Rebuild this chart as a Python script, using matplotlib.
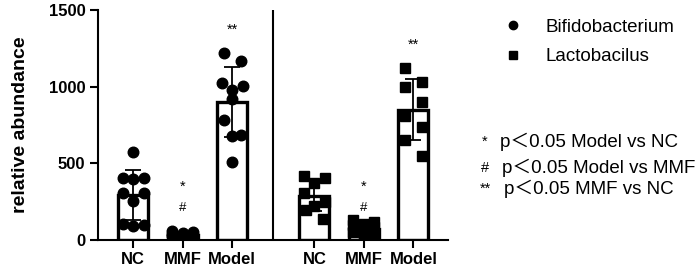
import numpy as np
import matplotlib
matplotlib.use("Agg")
import matplotlib.pyplot as plt
from matplotlib.lines import Line2D

# ---- data ----
groups = ["NC", "MMF", "Model"]
bifido_nc = [576, 405, 405, 396, 304, 304, 254, 105, 98, 92]
bifido_mmf = [60, 50, 45, 40, 35, 30, 25, 20, 15, 10]
bifido_model = [1222, 1168, 1026, 1005, 978, 918, 783, 685, 678, 511]
lacto_nc = [415, 405, 370, 305, 250, 225, 195, 140]
lacto_mmf = [130, 115, 105, 95, 85, 70, 55, 40, 30, 20]
lacto_model = [1124, 1030, 1000, 900, 810, 735, 650, 550]

bifido_marks = ["", "*\n#", "**"]
lacto_marks = ["", "*\n#", "**"]
yticks = [0, 500, 1000, 1500]

notes = [("*", "p＜0.05 Model vs NC"),
         ("#", "p＜0.05 Model vs MMF"),
         ("**", "p＜0.05 MMF vs NC")]
note_rows = [142, 168, 189]  # pixel rows of the footnote lines

plt.rcParams["font.family"] = ["Liberation Sans", "Noto Sans CJK SC", "DejaVu Sans"]


def swarm(vals, tol=100, step=0.215, max_row=3):
    """GraphPad-like row binning: close values share a row and spread sideways."""
    vals = np.asarray(vals, float)
    order = np.argsort(-vals, kind="stable")
    rows, cur = [], []
    for i in order:
        if cur and (vals[cur[0]] - vals[i] > tol or len(cur) >= max_row):
            rows.append(cur)
            cur = []
        cur.append(i)
    rows.append(cur)
    offs = np.zeros(len(vals))
    for r in rows:
        if len(r) == 2:
            offs[r] = [-0.8 * step, 0.8 * step]
        elif len(r) == 3:
            offs[r] = [-step, step, 0]
    return offs


fig = plt.figure(figsize=(6.99, 2.71), dpi=100)
ax = fig.add_axes([98 / 699, 31 / 271, 350 / 699, 230 / 271])

gap = 1.66
xpos_b = np.arange(3)
xpos_l = np.arange(3) + 2 + gap
panels = [
    (xpos_b, [bifido_nc, bifido_mmf, bifido_model], "o", 7.6, bifido_marks),
    (xpos_l, [lacto_nc, lacto_mmf, lacto_model], "s", 7.0, lacto_marks),
]

for xs, data, marker, ms, marks in panels:
    for x, vals, mk in zip(xs, data, marks):
        vals = np.asarray(vals, float)
        m, sd = vals.mean(), vals.std(ddof=1)
        ax.bar(x, m, width=0.6, color="white", edgecolor="black",
               linewidth=2.4, zorder=2)
        ax.plot(x + swarm(vals), vals, linestyle="none", marker=marker,
                ms=ms, color="black", mec="black", zorder=3)
        ax.errorbar(x, m, yerr=sd, fmt="none", ecolor="black",
                    elinewidth=1.3, capsize=5.5, capthick=1.3, zorder=4)
        if mk == "**":
            ax.text(x, vals.max() + 150, mk, ha="center", va="center",
                    fontsize=10.5)
        elif mk:
            ax.text(x, 346, "*", ha="center", va="center", fontsize=10.5)
            ax.text(x, 209, "#", ha="center", va="center", fontsize=9.5)

ax.axvline((xpos_b[-1] + xpos_l[0]) / 2, color="black", linewidth=1.5, zorder=1)

ax.set_ylim(0, 1500)
ax.set_xlim(-0.71, xpos_l[-1] + 0.70)
ax.set_yticks(yticks)
ax.set_xticks(np.concatenate([xpos_b, xpos_l]))
ax.set_xticklabels(groups * 2, fontsize=12, fontweight="bold")
ax.set_yticklabels([str(t) for t in yticks], fontsize=12, fontweight="bold")
ax.set_ylabel("relative abundance", fontsize=14, fontweight="bold", labelpad=14)
for s in ("top", "right"):
    ax.spines[s].set_visible(False)
for s in ("left", "bottom"):
    ax.spines[s].set_linewidth(1.5)
ax.tick_params(axis="both", length=6, width=1.5, pad=3)

handles = [Line2D([], [], linestyle="none", marker="o", ms=6, color="black"),
           Line2D([], [], linestyle="none", marker="s", ms=5.5, color="black")]
fig.legend(handles, ["Bifidobacterium", "Lactobacilus"], loc="upper left",
           bbox_to_anchor=(487 / 699, 1 - 2 / 271), frameon=False,
           fontsize=13.5, handlelength=1.0, handletextpad=1.2, labelspacing=0.65)

for i, ((sym, txt), row) in enumerate(zip(notes, note_rows)):
    y = 1 - row / 271
    fig.text(485 / 699, y, sym, ha="center", va="center", fontsize=10.5)
    fig.text((500 + 2 * i) / 699, y, txt, ha="left", va="center", fontsize=13.5)

fig.savefig("out.png", dpi=100)
